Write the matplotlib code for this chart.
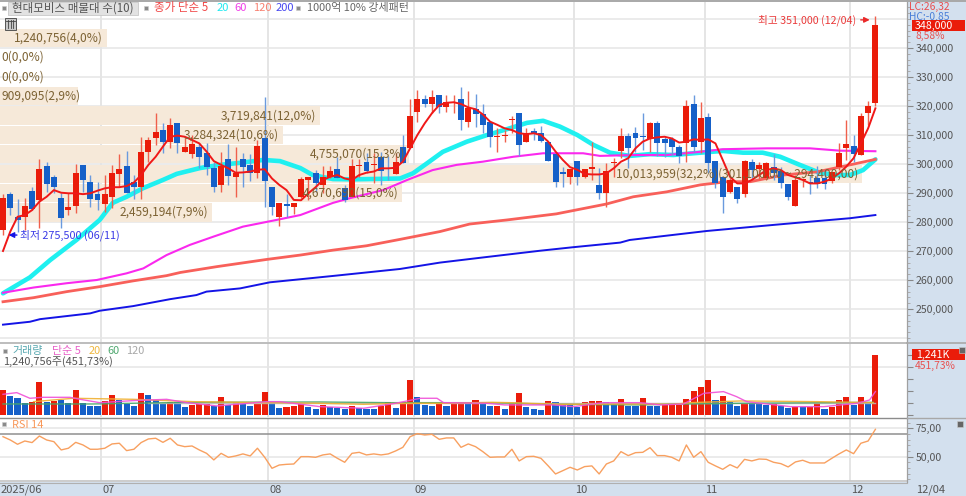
import matplotlib
matplotlib.use("Agg")
import matplotlib.pyplot as plt
import numpy as np
from matplotlib.patches import Rectangle
from matplotlib.ticker import FuncFormatter, MultipleLocator

FONT = ['Noto Sans CJK KR', 'DejaVu Sans']
plt.rcParams['font.family'] = FONT

# ---------- data (prices in thousand won, volumes in thousand shares) ----------
opens = [277.2,289.6,281.8,281.6,290.7,287.6,299.3,295.6,288.2,284,285.5,299.5,293.7,289.6,286.1,288.5,296.6,299.3,293.7,292,
         304.3,309,311.7,307.5,314.1,304,303.4,306,303.7,298.7,292.6,301.7,295.4,301.7,299.7,297,308.8,292,281.6,286.3,
         285.3,288.5,294.4,297,292.8,295.4,298.3,291.6,288.7,299.4,300.8,299.6,302.5,298.7,296.5,305.7,305.4,318,322.4,320.6,
         323.8,319.8,321,322.4,314.6,319,317.1,314.6,309.2,309.7,315,317.5,307.6,311.5,310.6,307.6,303.5,297.1,295.6,301.1,
         295.6,298.4,292.8,290.1,300.4,304.5,309.8,310.8,309.8,308.5,314.3,308.6,308.6,305.7,307.4,320.7,307.7,316.3,301.1,295.4,
         290.5,292.2,289.5,300.8,298.2,295,299,297.7,293.1,285.5,294.4,293.9,295.3,295.3,294.1,298.8,305.5,306.2,303.1,317.5,321]
highs = [289.7,290.2,287.8,288.2,292.2,301.7,300.8,296.2,289.9,289.9,300,299.5,296.2,293.7,296.2,299.6,303.3,304.5,296.2,309.2,
         309.4,317.5,314,315.8,314.1,308.9,310,307.1,307.1,300.8,304.3,306.8,306,303.7,303.3,308.3,323.2,292,286.7,289.6,
         286.7,295.4,295.4,297.9,299.3,299.3,302.3,292.8,301.6,301.6,303.7,303.7,304.3,302.8,303.7,310,322.3,325.5,323.8,325.5,
         323.8,323.8,323.8,326.7,325.2,324,320.6,314.6,312.3,311.7,316.6,317.5,312.3,312.5,313,307.6,303.5,298.9,298.3,301.1,
         298.2,307.7,298.5,300.5,302,312.3,310.6,312.9,317.5,314.6,314.8,309.4,309.4,306.6,322,323.8,321.5,317.5,301.1,295.4,
         295,292.2,301.4,301.6,300.8,300.8,303.4,298.8,293.1,296.2,295,296.2,299.3,297.9,297.4,307.1,315,310,317.5,321.8,351]
lows = [275.5,282.4,276.7,277.2,284,277.8,290.4,289.9,277.8,282.4,283,290.4,285.3,284.1,283.6,284.7,292.2,290.1,287.8,288,
        300.8,306.5,303.7,305.4,303.7,304,302,298.5,296.2,290.4,290.4,292.8,288.7,292.2,294.1,295.3,285.3,282.4,278.6,281.8,
        282.6,288.2,287.6,290.4,289.9,295,295.1,287,288.7,295.6,296.8,293.3,292.8,294.5,296.5,300.2,305.4,314.6,319.8,317.5,
        317.5,317.8,317.5,311.7,312.9,312.9,310.8,306,304.3,307.7,310.6,302.8,307.6,308.3,307.7,301,292,292,293.1,292.8,
        295,294.5,287.8,285.3,295.6,302,298.5,304.3,304.8,304.3,302.8,302.5,303.1,300.2,300.8,304.3,303.7,296.8,291.6,283,
        290,286.5,288.7,295,294.5,294.5,294.5,291.6,287.6,285.5,292.2,289.5,291.6,291.3,293.3,297.9,301.4,300.8,303.1,313.5,320]
closes = [288.2,284.7,280.7,285.6,284.4,298.4,293,292,281.3,285.3,296.8,294.5,288,287.6,289.6,296.8,298.3,290.1,292,304.3,
          308.3,311,307.5,313.6,307.1,305.7,306.8,302.5,299.1,292,299.3,296,297,299.1,297,306.2,294.3,285.3,286.7,285.6,
          286.7,294.7,295.4,293.3,295.4,297.7,295.1,287.6,299.3,299.6,297.6,300,297.6,298.3,300.6,300.2,316.6,322.3,320.6,323,
          319.8,321.5,321.3,315,319.4,317.1,313.5,309.2,309.7,309.9,315.5,306.6,310.6,310.6,308,301,293.7,296.5,298.3,295.4,
          298.2,298.7,290.1,297.7,300.6,309.8,305.4,309.1,309.2,314.3,307.4,307.4,305.7,302.8,320,306,315.7,300.2,293.3,288.7,
          294.5,288,301,297.9,299.7,300.2,297,293.6,288.5,294.5,294.6,293.3,293,293,297.4,303.7,306.9,303.5,316.6,320,348]
ma5 = [270,276.7,281.8,282.4,284.1,287,288.7,291,290.1,289.9,289.9,289.6,289.9,290.8,291.6,292,292,292.4,293.6,296.2,
       299.7,302.5,306,309.4,309.8,309.4,308.3,307.1,304.3,301,299.7,298.5,297,297.1,297.4,298,298.2,295,292.8,291,
       287.6,287.5,289.9,292,294.5,295.6,296.2,295,294.5,296.2,297,297.4,298.5,298.5,298.7,300.8,305.4,310,314,317.5,
       320.3,321.1,321.3,320.7,319.5,318.9,317.1,314.6,313.5,312.3,311.7,310.6,310.3,310.6,310,307.7,304.3,301.4,298.9,298,
       296.6,296.4,296.4,296.8,298.5,300.8,302,305.4,307.7,308.8,309.2,309.4,308.8,307.4,307.7,308.5,308.3,308.5,307.1,301.4,
       295.6,293.3,293.3,294.5,296.2,297.9,298.5,297.9,296.2,295.4,294.5,293.3,293.3,293.9,295,296.8,299.1,302,307.1,312.3,319.2]
ma20_idx = [0,3.7,6.5,10.1,13.3,15.1,17,19.3,22,23.9,27.1,29.8,32.6,35.8,38.1,40.9,42.6,45.4,48.1,54.6,56.4,58.3,60.5,63.8,66.6,69.3,72.1,74.3,76.6,79,81.2,83.5,86.2,89,92.2,95.9,99,101.8,104.5,106.9,109.6,112,114.2,116.5,118.3,120]
ma20_val = [255.4,260.9,266.9,273.8,280.7,286.6,288.7,291.7,294.5,296.6,298.6,299.7,300.4,301.4,301,298.6,296.2,294.8,294.7,295,296.8,300.2,304.2,307.7,310,312,314.2,314.9,312.9,310,306.6,303.9,302.8,303.4,303.1,303.9,304.5,303.9,303.9,302.5,299.7,297.3,296.2,296.2,297.9,301.6]
ma60_idx = [0,4.2,8.8,12.9,17,19.3,22.5,25.7,29,33,37.6,40.9,45.4,47.7,52.3,55.6,59.1,62.4,66,70.2,74.3,79.8,82.1,86.7,91.3,95.9,99,105.1,111,115.1,120]
ma60_val = [255.6,257.4,258.9,260,262.3,264,268.6,272.1,275,278.4,280.7,282.4,286.6,288.2,291,294.5,297.9,299.7,300.8,302.5,303.7,303.7,302.8,303.1,303.1,304.2,305.1,305.4,305.4,304.6,304.4]
ma120_idx = [0,4.2,8.8,13.3,17.9,22.5,24.4,29.4,36.3,40.9,45.4,50,54.6,60.1,64.2,69.3,76.1,83,86.7,91.3,95.9,99.6,102.8,107.3,112,116.5,120]
ma120_val = [252.5,253.9,256,257.7,259.7,261.5,262.6,264.6,267.1,268.6,270.3,271.8,274,276.7,279.3,280.7,282.8,286.2,288.7,290.4,292.8,293.9,293.9,296.2,297.3,299.7,301.6]
ma200_idx = [0,3.7,5.1,12,13.3,17.9,23,26.6,28,32.6,36.7,45.4,54.6,60.1,66.1,73.9,78.4,84.9,86.2,96.8,106,110.5,116.5,120]
ma200_val = [244.6,245.6,246.5,248.5,249.4,251,253.4,254.8,256,257.1,259.2,261.4,263.8,266,267.8,270.1,271.3,272.9,273.8,276.9,279,280,281.3,282.4]

volumes = [521,398,350,247,267,679,281,302,315,260,521,260,192,192,295,411,315,226,192,466,
           411,315,233,274,267,165,213,233,233,199,384,213,267,247,192,233,487,247,151,165,
           192,233,165,130,206,178,158,130,192,158,123,123,192,274,158,274,727,370,213,192,
           226,192,226,281,281,315,247,192,192,130,233,452,165,130,117,302,281,213,213,165,
           281,302,302,281,233,336,192,192,350,199,192,213,213,213,329,500,576,727,315,404,
           274,192,247,260,247,213,226,199,158,178,178,178,247,130,178,315,370,213,384,281,1240.756]
vol_dir = list("rbbbrrbrbb" "rbbbrrbbbr" "bbbrbbrrrb" "rbrbbrrbbr" "rrbbrbbbrb" "bbrrbrrbbb"
               "rbrrbrbbrb" "rrbbbrbbbb" "rrrbbrbbrb" "brrrrrrrbr" "bbrbbbrbbr" "brrbrrrbrbr")
vol_ma5_idx = [0,1.9,3.7,5.5,9.2,10.6,13.3,17.9,22.5,25.3,29.4,36.3,38.1,43.6,49.6,54,57.4,59.7,60.6,66.6,69,75.7,78.5,82.6,87.6,90.4,93.6,96.4,99.1,100.9,102.3,108.3,112.9,117.5,119.2,120]
vol_ma5_val = [432,466,350,370,370,329,260,302,329,260,192,281,281,178,144,247,350,350,260,247,213,213,178,260,260,213,233,452,487,384,281,178,178,247,315,487]
vol_ma20_idx = [4.2,9.7,17.9,26.1,36.3,43.6,49.6,54.9,61,67.4,69.7,76.7,87.6,92.2,94.5,101.4,111.9,119.7]
vol_ma20_val = [281,350,329,281,260,247,226,247,247,267,260,226,233,226,260,295,281,260]
vol_ma60_idx = [0,12.4,25.3,43.6,53.2,67.4,75.7,87.6,93.6,101.4,119.7]
vol_ma60_val = [233,233,267,274,260,260,226,213,233,247,267]
vol_ma120_idx = [20,120]
vol_ma120_val = [247,247]

rsi14 = [67.6,64.7,60.9,63.8,62.4,68.2,64.7,63.2,55.9,57.4,62.6,60.3,56.5,56.5,57.4,61.2,61.8,55.3,56.5,62.4,
         65.6,66.2,62.6,66.2,60.3,58.8,59.4,55.9,52.9,47.1,52.9,49.4,50.6,52.4,50.6,57.4,49.4,39.7,42.6,43.2,
         43.5,50,50,49.4,51.5,52.4,48.5,45,52.9,53.8,51.5,52.4,51.5,52.4,55,58.2,67.6,70.3,69.1,69.7,
         65.3,66.5,66.5,58.2,61.2,58.8,54.4,49.4,49.7,49.7,56.5,46.2,50,50.3,48.5,41.8,34.7,37.6,40.6,38.2,
         41.2,41.8,34.7,43.5,46.2,54.4,50.9,53.5,53.8,57.9,50.9,50.9,49.4,46.2,60.3,49.4,54.4,45,41.8,38.8,
         42.9,40,47.6,46.2,47.9,47.6,45,43.8,40.9,45.3,46.8,44.4,44.4,44.4,48.5,52.4,55.9,52.6,61.8,63.8,74.1]

band_vols = [1240756,0,0,909095,3719841,3284324,4755070,10013959,4670690,2459194]
band_labels = ["1,240,756(4,0%)","0(0,0%)","0(0,0%)","909,095(2,9%)","3,719,841(12,0%)","3,284,324(10,6%)",
               "4,755,070(15,3%)","10,013,959(32,2%)(301,100,00 ~ 294,400,00)","4,670,690(15,0%)","2,459,194(7,9%)"]
month_pos = [13.5,36.5,56.5,78.5,96.5,116.5]
month_labels = ["07","08","09","10","11","12"]
price_ticks = [250,260,270,280,290,300,310,320,330,340]

# ---------- layout helpers ----------
W, H = 966, 496
PLOT_R = 907
fig = plt.figure(figsize=(W/100, H/100), dpi=100, facecolor='white')

def axes_px(x0, y0, x1, y1):
    return fig.add_axes([x0/W, 1-y1/H, (x1-x0)/W, (y1-y0)/H])

def T(x, y, s, color='#555555', size=7.4, ha='left', **kw):
    return fig.text(x/W, 1-y/H, s, color=color, fontsize=size, ha=ha, va='center', family=FONT, **kw)

PANEL = '#d3e0ee'
fig.patches.append(Rectangle((PLOT_R/W, 0), 1-PLOT_R/W, 1, transform=fig.transFigure, fc=PANEL, ec='none', zorder=-5))
fig.patches.append(Rectangle((0, 0), 1, 14/H, transform=fig.transFigure, fc=PANEL, ec='none', zorder=-5))

xlim = (-3/7.27, (PLOT_R-3)/7.27)
RED, BLUE = '#ea1c0a', '#1560c8'
GRID, VGRID = '#e6e6e6', '#dedede'

def style(ax):
    ax.set_xlim(*xlim)
    ax.set_xticks([])
    ax.set_facecolor('white')
    for s in ax.spines.values():
        s.set_visible(False)
    for m in month_pos:
        ax.axvline(m, color=VGRID, lw=1.1, zorder=0)
    ax.yaxis.tick_right()

# ---------- main price panel ----------
ax = axes_px(0, 2, PLOT_R, 342)
style(ax)
ax.set_ylim(340-(342-48)/2.9, 340+(48-2)/2.9)
ax.set_yticks(price_ticks)
ax.yaxis.set_major_formatter(FuncFormatter(lambda v, p: f"{v*1000:,.0f}"))
ax.yaxis.set_minor_locator(MultipleLocator(2))
ax.tick_params(axis='y', which='major', length=4, width=0.8, color='#888888', labelcolor='#555555', labelsize=7.6, pad=2)
ax.tick_params(axis='y', which='minor', length=2, width=0.7, color='#aaaaaa')
for v in range(240, 360, 10):
    ax.axhline(v, color=GRID, lw=1.1, zorder=0)

# volume-by-price bands
band_centers = [343.45 - 6.686*j for j in range(len(band_vols))]
for c_, v, lab in zip(band_centers, band_vols, band_labels):
    w = v*8.61e-5/7.27
    ax.barh(c_, w, height=6.3, left=xlim[0], color='#f6e9d9', zorder=1)
    if v*8.61e-5 < 90:
        ax.text(xlim[0]+0.25, c_, lab, color='#7c6233', fontsize=8.6, ha='left', va='center', zorder=8)
    else:
        ax.text(xlim[0]+w-0.55, c_, lab, color='#7c6233', fontsize=8.6, ha='right', va='center', zorder=8)

xs = np.arange(len(closes))
o, h, l, c = map(np.array, (opens, highs, lows, closes))
up = c >= o
cols = np.where(up, RED, BLUE)
wick = np.where(up, '#f0604c', '#6a9ade')

ax.plot(ma20_idx, ma20_val, color='#1ff0f0', lw=3.3, zorder=2, solid_capstyle='round')
ax.plot(ma60_idx, ma60_val, color='#fa28ee', lw=1.5, zorder=2.2)
ax.plot(ma120_idx, ma120_val, color='#f8605a', lw=2.0, zorder=2.4)
ax.plot(ma200_idx, ma200_val, color='#1414e6', lw=1.4, zorder=2.4)
ax.vlines(xs, l, h, colors=wick, lw=1.0, zorder=3)
ax.bar(xs, np.maximum(np.abs(c-o), 0.4), bottom=np.minimum(o, c), width=0.82, color=cols, zorder=4)
ax.plot(xs, ma5, color='#f01818', lw=1.4, zorder=5)

# high / low annotations (anchored on data)
imax, imin = int(np.argmax(h)), int(np.argmin(l))
ax.annotate("", xy=(imax-0.4, h[imax]-1.3), xytext=(imax-2.4, h[imax]-1.3),
            arrowprops=dict(arrowstyle='-|>', color='#ea2a2a', lw=1, mutation_scale=8), zorder=8)
ax.text(imax-2.7, h[imax]-1.3, f"최고 {h[imax]*1000:,.0f} (12/04)", color='#ea3a3a', fontsize=7.7, ha='right', va='center', zorder=8)
ax.annotate("", xy=(imin+0.4, l[imin]), xytext=(imin+2.3, l[imin]),
            arrowprops=dict(arrowstyle='-|>', color='#1414e6', lw=1, mutation_scale=8), zorder=8)
ax.text(imin+2.4, l[imin], f"최저 {l[imin]*1000:,.0f} (06/11)", color='#3a3ae6', fontsize=7.8, ha='left', va='center', zorder=8)

# ---------- volume panel ----------
av = axes_px(0, 343, PLOT_R, 417)
style(av)
vscale = 1240.756/60.33
av.set_ylim(-(417-415.3)*vscale, (415.3-343)*vscale)
av.set_yticks([0, 250, 500, 750, 1000, 1250])
av.set_yticklabels([])
av.tick_params(axis='y', which='major', length=4, width=0.8, color='#888888')
av.axhline(1000, color=GRID, lw=1.1, zorder=0)
vc = [RED if d == 'r' else BLUE for d in vol_dir]
av.bar(xs, volumes, width=0.84, color=vc, zorder=3)
av.plot(vol_ma120_idx, vol_ma120_val, color='#b8b8b8', lw=1.0, alpha=0.9, zorder=4)
av.plot(vol_ma60_idx, vol_ma60_val, color='#48a868', lw=1.0, alpha=0.9, zorder=4)
av.plot(vol_ma20_idx, vol_ma20_val, color='#f0b030', lw=1.0, alpha=0.9, zorder=4)
av.plot(vol_ma5_idx, vol_ma5_val, color='#f050d8', lw=1.0, alpha=0.9, zorder=4)

# ---------- RSI panel ----------
ar = axes_px(0, 419, PLOT_R, 481)
style(ar)
ar.set_ylim(75-(481-428.3)/1.133, 75+(428.3-419)/1.133)
ar.set_yticks([50, 75])
ar.yaxis.set_major_formatter(FuncFormatter(lambda v, p: f"{v:.2f}".replace('.', ',')))
ar.yaxis.set_minor_locator(MultipleLocator(5))
ar.tick_params(axis='y', which='major', length=4, width=0.8, color='#888888', labelcolor='#555555', labelsize=7.6, pad=2)
ar.tick_params(axis='y', which='minor', length=2, width=0.7, color='#aaaaaa')
ar.axhline(75, color=GRID, lw=1.1, zorder=1)
ar.axhline(50, color=GRID, lw=1.1, zorder=1)
ar.axhline(70, color='#909090', lw=1.1, zorder=2)
ar.plot(xs, rsi14, color='#f8a060', lw=1.0, zorder=3)

# separators
for y, col, lw in [(1, '#a8a8a8', 1.4), (342.5, '#b8b8b8', 1.3), (417.5, '#8c8c8c', 1.0),
                   (481, '#c4c4c4', 1.2), (482.5, '#b0b0b0', 0.8)]:
    fig.add_artist(plt.Line2D([0, PLOT_R/W], [1-y/H]*2, color=col, lw=lw))
fig.add_artist(plt.Line2D([PLOT_R/W]*2, [14/H, 1], color='#a0a0a0', lw=0.9))
fig.add_artist(plt.Line2D([PLOT_R/W, 1], [1-1/H]*2, color='#a8a8a8', lw=1.4))
fig.add_artist(plt.Line2D([PLOT_R/W, 1], [1-342.5/H]*2, color='#a8a8a8', lw=1.2))
fig.add_artist(plt.Line2D([PLOT_R/W, 1], [1-417.5/H]*2, color='#a8a8a8', lw=1.0))

# ---------- header & labels ----------
def sq(x, y, s=4, col='#8a8a8a'):
    fig.patches.append(Rectangle((x/W, 1-(y+s)/H), s/W, s/H, transform=fig.transFigure, fc=col, ec='#cccccc', lw=0.4, zorder=10))

sq(2, 6)
fig.patches.append(Rectangle((8/W, 1-15/H), 130/W, 13/H, transform=fig.transFigure, fc='#e2e2e2', ec='#c8c8c8', lw=0.6, zorder=9))
T(12, 8, "현대모비스 매물대 수(10)", '#555555', 8.3, zorder=11)
sq(144, 6)
T(154, 8, "종가 단순 5", '#f04848', 8.3)
T(217, 8, "20", '#20e8f0', 8.0)
T(234, 8, "60", '#f040e8', 8.0)
T(253, 8, "120", '#f88070', 8.0)
T(276, 8, "200", '#4848f0', 8.0)
sq(296, 6)
T(307, 8, "1000억 10% 강세패턴", '#666666', 7.9)

# small table icon
fig.patches.append(Rectangle((5/W, 1-30/H), 11/W, 12/H, transform=fig.transFigure, fc='#c8c8c8', ec='#555555', lw=0.7, zorder=10))
for gx in (8, 10.5, 13):
    fig.add_artist(plt.Line2D([gx/W]*2, [1-28/H, 1-20/H], color='#444444', lw=0.6, zorder=11))
fig.add_artist(plt.Line2D([6/W, 15/W], [1-21/H]*2, color='#444444', lw=0.6, zorder=11))

# right-hand labels
T(909, 7, "LC:26,32", '#e85050', 7.4)
T(909, 17, "HC:-0,85", '#4a7fd8', 7.4)
fig.patches.append(Rectangle((912/W, 1-31/H), 53/W, 11/H, transform=fig.transFigure, fc=RED, ec='none', zorder=9))
T(915, 25.5, f"{closes[-1]*1000:,.0f}", 'white', 7.6, zorder=11)
T(915, 36, "8,58%", '#e85050', 7.4)
fig.patches.append(Rectangle((912/W, 1-360/H), 53/W, 11/H, transform=fig.transFigure, fc=RED, ec='none', zorder=9))
T(916, 354.5, "1,241K", 'white', 7.6, zorder=11)
T(915, 366, "451,73%", '#e85050', 7.4)
sq(959, 347, 6, '#666666')
sq(957, 421, 6, '#666666')

# volume / RSI titles
sq(3, 349)
T(12, 351, "거래량", '#58a8b0', 7.9)
T(52, 351, "단순 5", '#e860c8', 7.9)
T(89, 351, "20", '#f0b840', 7.9)
T(107, 351, "60", '#50a870', 7.9)
T(126, 351, "120", '#a8a8a8', 7.9)
T(3, 362, "1,240,756주(451,73%)", '#555555', 7.9)
sq(2, 422)
T(12, 425, "RSI 14", '#f8985a', 7.9)

# bottom date labels
T(1, 490, "2025/06", '#555555', 8.0)
for m, lab in zip(month_pos, month_labels):
    T(3+7.27*m+1, 490, lab, '#555555', 8.0)
T(916, 490, "12/04", '#555555', 8.0)

fig.savefig("out.png", dpi=100)
